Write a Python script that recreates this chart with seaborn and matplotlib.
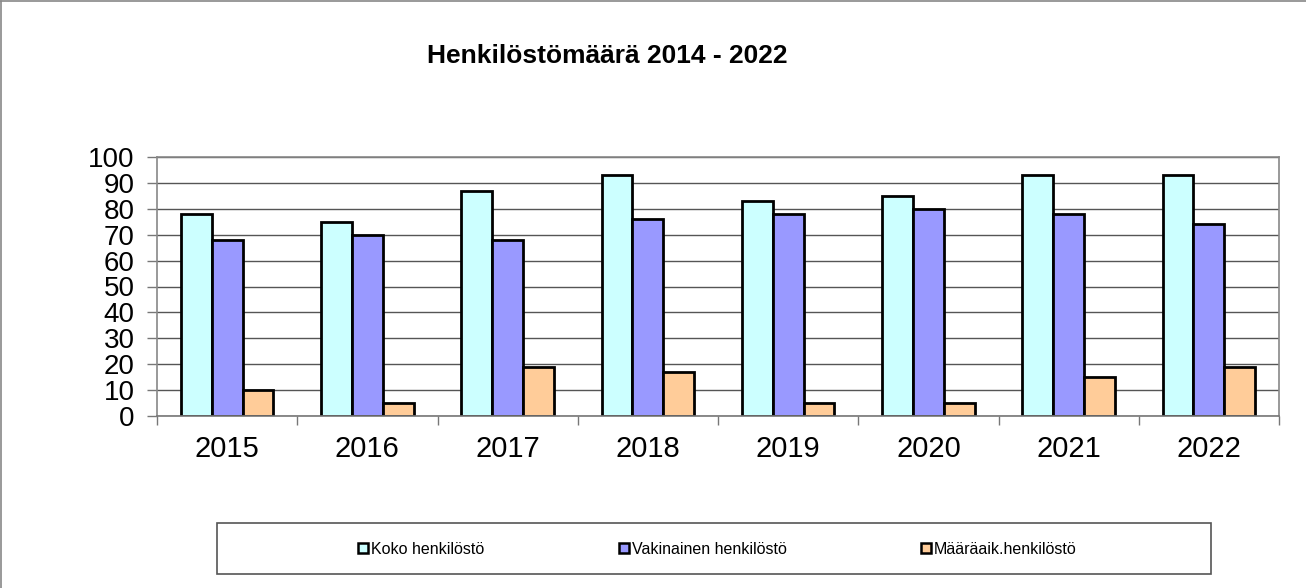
import matplotlib
matplotlib.use("Agg")
import matplotlib.pyplot as plt
import seaborn as sns
import pandas as pd
from matplotlib.patches import Rectangle
from matplotlib.lines import Line2D

years = ["2015", "2016", "2017", "2018", "2019", "2020", "2021", "2022"]
series_names = ["Koko henkilöstö", "Vakinainen henkilöstö", "Määräaik.henkilöstö"]
koko = [78, 75, 87, 93, 83, 85, 93, 93]
vakinainen = [68, 70, 68, 76, 78, 80, 78, 74]
maaraaik = [10, 5, 19, 17, 5, 5, 15, 19]
colors = ["#CCFFFF", "#9999FF", "#FFCC99"]

rows = []
for name, vals in zip(series_names, [koko, vakinainen, maaraaik]):
    for y, v in zip(years, vals):
        rows.append({"Vuosi": y, "Sarja": name, "Arvo": v})
df = pd.DataFrame(rows)

sns.set_style("white")
plt.rcParams["font.family"] = ["Liberation Sans", "DejaVu Sans"]
plt.rcParams["text.color"] = "black"
plt.rcParams["xtick.labelcolor"] = "black"
plt.rcParams["ytick.labelcolor"] = "black"

W, H = 1306, 588
fig = plt.figure(figsize=(W/100, H/100), dpi=100)
ax = fig.add_axes([157/W, 1-416/H, (1279-157)/W, (416-157)/H])

sns.barplot(data=df, x="Vuosi", y="Arvo", hue="Sarja", order=years,
            hue_order=series_names, palette=colors, width=0.66, gap=0,
            edgecolor="black", linewidth=2.0, saturation=1, ax=ax, legend=False)

ax.set_xlim(-0.5, 7.5)
ax.set_ylim(0, 100)
ax.set_yticks(range(0, 101, 10))
ax.yaxis.grid(True, color="#555555", linewidth=1.0)
ax.set_axisbelow(True)
ax.set_xlabel("")
ax.set_ylabel("")
ax.tick_params(axis="y", labelsize=20, length=7, width=1, color="#777777", pad=9,
               left=True, labelcolor="black")
ax.tick_params(axis="x", which="major", labelsize=21, length=0, pad=14, labelcolor="black")
ax.set_xticks([i + 0.5 for i in range(-1, 8)], minor=True)
ax.tick_params(axis="x", which="minor", length=6.5, width=1, color="#777777", bottom=True)
for s in ax.spines.values():
    s.set_color("#888888")
    s.set_linewidth(1.2)
ax.spines["bottom"].set_color("#777777")

fig.text(607/W, 1-56/H, "Henkilöstömäärä 2014 - 2022", ha="center", va="center",
         fontsize=19, fontweight="bold", color="black")

# legend box
fig.patches.append(Rectangle((217/W, 1-574/H), (1211-217)/W, (574-523)/H,
                             transform=fig.transFigure, fill=False,
                             edgecolor="#555555", linewidth=1.2))
handles = [Line2D([], [], marker="s", linestyle="none", markersize=7.5,
                  markerfacecolor=c, markeredgecolor="black", markeredgewidth=1.8)
           for c in colors]
leg = fig.legend(handles, series_names, loc="center", ncol=3,
                 bbox_to_anchor=(717/W, 1-549/H), fontsize=11.5,
                 frameon=False, handlelength=0.7, handletextpad=0.15,
                 columnspacing=8.4, labelcolor="black")

# outer figure border (top and left)
fig.lines.append(Line2D([0.0008, 0.0008], [0, 0.999], transform=fig.transFigure,
                        color="#888888", linewidth=1.2))
fig.lines.append(Line2D([0, 1], [0.999, 0.999], transform=fig.transFigure,
                        color="#888888", linewidth=1.2))

fig.savefig("out.png", dpi=100)
